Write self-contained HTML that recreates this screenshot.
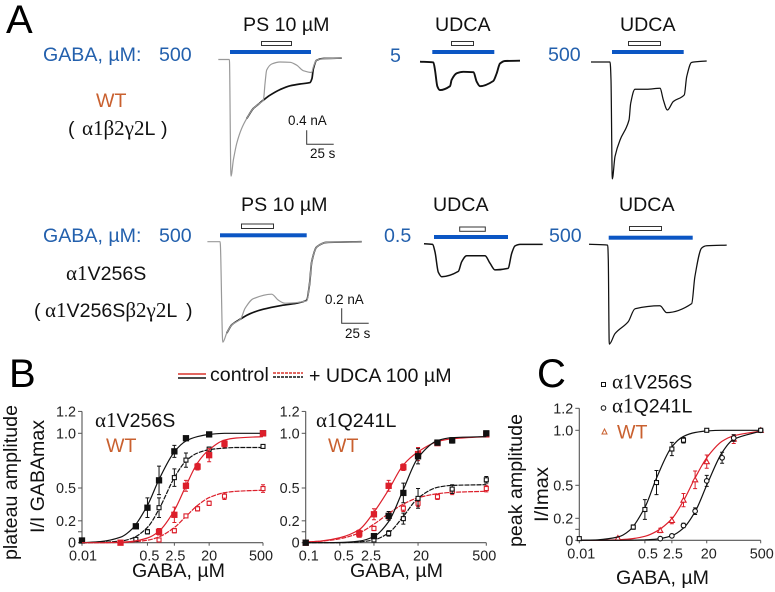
<!DOCTYPE html>
<html lang="en">
<head>
<meta charset="utf-8">
<title>GABA dose-response figure</title>
<style>
html,body{margin:0;padding:0;background:#fff;width:775px;height:592px;overflow:hidden}
svg{display:block}
text{font-family:"Liberation Sans",sans-serif;fill:#111;white-space:pre}
.s{font-family:"Liberation Serif",serif;font-size:21px}
.blue{fill:#2360ad}
.org{fill:#c9602f}
.t{font-size:19.6px}
.tick{font-size:14.4px;fill:#222}
.pl{font-size:40px;fill:#000}
.sm{font-size:13.4px}
</style>
</head>
<body>
<svg id="fig" xmlns="http://www.w3.org/2000/svg" width="775" height="592" viewBox="0 0 775 592">
<rect width="775" height="592" fill="#fff"/>
<text class="pl" x="6" y="33">A</text>
<text class="pl" x="9" y="387">B</text>
<text class="pl" x="537" y="387">C</text>

<text class="t blue" x="43" y="61">GABA, µM:</text>
<text class="t blue" x="159" y="61">500</text>
<text class="t blue" x="390" y="62">5</text>
<text class="t blue" x="548" y="61">500</text>
<text class="t blue" x="43" y="242">GABA, µM:</text>
<text class="t blue" x="159" y="242">500</text>
<text class="t blue" x="384" y="242">0.5</text>
<text class="t blue" x="549" y="242">500</text>

<text class="t" x="243" y="31">PS 10 µM</text>
<text class="t" x="435" y="31">UDCA</text>
<text class="t" x="620" y="31">UDCA</text>
<text class="t" x="241" y="211">PS 10 µM</text>
<text class="t" x="433" y="211">UDCA</text>
<text class="t" x="619" y="211">UDCA</text>

<text class="t org" x="96" y="107">WT</text>
<text class="t" x="68" y="135">(<tspan class="s" x="82">α1β2γ2</tspan>L<tspan x="161">)</tspan></text>
<text class="t" x="66" y="280"><tspan class="s">α1</tspan>V256S</text>
<text class="t" x="34" y="317">(<tspan class="s" x="45">α1</tspan>V256S<tspan class="s">β2γ2</tspan>L<tspan x="186">)</tspan></text>

<g fill="#0b56c4">
<rect x="230" y="50" width="81" height="4"/>
<rect x="432.3" y="50" width="62" height="4"/>
<rect x="612" y="50" width="71.7" height="4"/>
<rect x="220" y="233.3" width="86.7" height="4"/>
<rect x="434" y="235" width="74" height="4"/>
<rect x="608.7" y="235.7" width="84" height="4"/>
</g>
<g fill="#fff" stroke="#333" stroke-width="1">
<rect x="261.5" y="41.5" width="30" height="4"/>
<rect x="451.5" y="41.5" width="22" height="4"/>
<rect x="628.5" y="41.5" width="32" height="4"/>
<rect x="241.5" y="224" width="32" height="4.5"/>
<rect x="459.7" y="227" width="25.6" height="4.3"/>
<rect x="629.5" y="226.5" width="32" height="4"/>
</g>

<g id="traces"></g>
<g id="scalebars"></g>
<text class="sm" x="288" y="125">0.4 nA</text>
<text class="sm" x="310" y="158">25 s</text>
<text class="sm" x="325" y="304">0.2 nA</text>
<text class="sm" x="345" y="338">25 s</text>

<g>
<line x1="178" x2="206" y1="374" y2="374" stroke="#d9342c" stroke-width="1.5"/>
<line x1="178" x2="206" y1="378" y2="378" stroke="#111" stroke-width="1.5"/>
<text class="t" x="210" y="381">control</text>
</g>
<g>
<line x1="273" x2="303" y1="373" y2="373" stroke="#d9342c" stroke-width="1.5" stroke-dasharray="3 1"/>
<line x1="273" x2="303" y1="377" y2="377" stroke="#111" stroke-width="1.5" stroke-dasharray="3 1"/>
<text class="t" x="309" y="382">+ UDCA 100 µM</text>
</g>

<text class="t" transform="translate(17,560) rotate(-90)" textLength="155" lengthAdjust="spacingAndGlyphs">plateau amplitude</text>
<text class="t" transform="translate(44,533) rotate(-90)" textLength="113" lengthAdjust="spacingAndGlyphs">I/I GABAmax</text>
<text class="t" transform="translate(522,547) rotate(-90)" textLength="133" lengthAdjust="spacingAndGlyphs">peak amplitude</text>
<text class="t" transform="translate(548,522) rotate(-90)" textLength="55" lengthAdjust="spacingAndGlyphs">I/Imax</text>

<text class="t" x="132" y="577">GABA, µM</text>
<text class="t" x="350" y="577">GABA, µM</text>
<text class="t" x="616" y="584">GABA, µM</text>

<text class="t" x="95" y="427"><tspan class="s">α1</tspan>V256S</text>
<text class="t org" x="106" y="452">WT</text>
<text class="t" x="316" y="427"><tspan class="s">α1</tspan>Q241L</text>
<text class="t org" x="328" y="452">WT</text>

<g>
<rect x="601.5" y="382.5" width="4" height="4" fill="#fff" stroke="#111"/>
<text class="t" x="612" y="388.5"><tspan class="s">α1</tspan>V256S</text>
<circle cx="603.5" cy="408" r="2.3" fill="#fff" stroke="#111"/>
<text class="t" x="612" y="412.5"><tspan class="s">α1</tspan>Q241L</text>
<polygon points="604.5,429 607,434 602,434" fill="#fff" stroke="#c9602f"/>
<text class="t org" x="617" y="438.5">WT</text>
</g>

<g id="charts"></g>
</svg>

<script>
// ---------- Dose-response data: panel B, alpha1 V256S ----------
const b1CurveDoses = [0.01,0.03,0.1,0.2,0.5,1,2.5,5,10,20,50,100,500];
const b1ControlMutantDoses = [0.01,0.25,0.5,1,2.5,5,20,500];
const b1ControlMutantValues = [0.02,0.15,0.32,0.57,0.835,0.955,0.99,1.0];
const b1ControlMutantErrors = [0.02,0.02,0.09,0.13,0.055,0.015,0.01,0.005];
const b1ControlMutantCurve = [0,0.01,0.05,0.126,0.34,0.578,0.83,0.93,0.97,0.99,1,1,1];
const b1UdcaMutantDoses = [0.25,0.5,1,2.5,5,20,500];
const b1UdcaMutantValues = [0.03,0.1,0.32,0.595,0.755,0.855,0.88];
const b1UdcaMutantErrors = [0.01,0.02,0.09,0.08,0.065,0.02,0.015];
const b1UdcaMutantCurve = [0,0.003,0.015,0.04,0.14,0.307,0.595,0.747,0.82,0.85,0.865,0.87,0.87];
const b1ControlWtDoses = [0.1,1,2.5,5,10,20,50,500];
const b1ControlWtValues = [0,0.1,0.255,0.52,0.695,0.8,0.905,1.0];
const b1ControlWtErrors = [0.005,0.03,0.07,0.05,0.03,0.06,0.03,0.01];
const b1ControlWtCurve = [0,0,0.005,0.012,0.043,0.105,0.296,0.52,0.73,0.85,0.938,0.957,0.97];
const b1UdcaWtDoses = [0.1,1,2.5,5,10,20,50,500];
const b1UdcaWtValues = [0,0.025,0.11,0.245,0.31,0.36,0.425,0.495];
const b1UdcaWtErrors = [0.005,0.01,0.02,0.01,0.02,0.02,0.03,0.035];
const b1UdcaWtCurve = [0,0,0.003,0.007,0.023,0.053,0.139,0.24,0.341,0.412,0.457,0.47,0.48];
const b1XTicks = [0.01,0.5,2.5,20,500];

// ---------- Dose-response data: panel B, alpha1 Q241L ----------
const b2CurveDoses = [0.1,0.2,0.5,1.25,2.5,5,10,20,50,100,500];
const b2ControlMutantDoses = [0.1,2.5,5,10,20,50,100,500];
const b2ControlMutantValues = [0,0.06,0.245,0.455,0.79,0.915,0.935,1.0];
const b2ControlMutantErrors = [0.005,0.015,0.04,0.09,0.07,0.02,0.025,0.01];
const b2ControlMutantCurve = [0,0,0.002,0.015,0.057,0.194,0.485,0.776,0.933,0.96,0.97];
const b2UdcaMutantDoses = [2.5,5,10,20,100,500];
const b2UdcaMutantValues = [0.025,0.085,0.22,0.405,0.49,0.575];
const b2UdcaMutantErrors = [0.01,0.025,0.05,0.09,0.04,0.03];
const b2UdcaMutantCurve = [0,0,0,0.007,0.026,0.09,0.24,0.407,0.506,0.524,0.53];
const b2ControlWtDoses = [0.1,1.25,2.5,5,10,20,50,500];
const b2ControlWtValues = [0,0.085,0.26,0.52,0.69,0.81,0.91,0.99];
const b2ControlWtErrors = [0.005,0.03,0.05,0.05,0.03,0.06,0.02,0.01];
const b2ControlWtCurve = [0.006,0.015,0.046,0.12,0.28,0.485,0.71,0.83,0.924,0.95,0.97];
const b2UdcaWtDoses = [1.25,2.5,5,10,20,50,100,500];
const b2UdcaWtValues = [0.07,0.13,0.24,0.315,0.36,0.42,0.47,0.495];
const b2UdcaWtErrors = [0.02,0.02,0.03,0.03,0.03,0.025,0.03,0.03];
const b2UdcaWtCurve = [0.006,0.013,0.036,0.09,0.17,0.267,0.353,0.41,0.448,0.46,0.47];
const b2XTicks = [0.1,0.5,2.5,20,500];

// ---------- Dose-response data: panel C, peak amplitude ----------
const cCurveDoses = [0.01,0.03,0.1,0.2,0.5,1,2.5,5,10,20,50,100,500];
const cMutant1Doses = [0.01,0.25,0.5,1,2.5,5,20,500];
const cMutant1Values = [0.015,0.12,0.28,0.525,0.83,0.91,1.0,1.0];
const cMutant1Errors = [0.01,0.02,0.09,0.11,0.06,0.025,0.005,0.005];
const cMutant1Curve = [0,0.005,0.03,0.09,0.3,0.565,0.85,0.945,0.98,0.994,1,1,1];
const cMutant2Doses = [1.25,2.5,5,10,20,50,100,500];
const cMutant2Values = [0.015,0.04,0.135,0.265,0.54,0.75,0.93,1.0];
const cMutant2Errors = [0.005,0.015,0.02,0.03,0.05,0.05,0.03,0.005];
const cMutant2Curve = [0,0,0,0.001,0.004,0.011,0.042,0.111,0.26,0.5,0.798,0.918,0.992];
const cWtDoses = [0.1,1.25,2.5,5,10,20,100,500];
const cWtValues = [0.02,0.09,0.18,0.365,0.55,0.715,0.92,1.0];
const cWtErrors = [0.01,0.02,0.03,0.06,0.08,0.06,0.04,0.005];
const cWtCurve = [0,0,0.005,0.012,0.036,0.082,0.195,0.36,0.567,0.75,0.9,0.95,0.993];
const cXTicks = [0.01,0.5,2.5,20,500];

const yTickValues = [0,0.1,0.2,0.5,1.0,1.2];
const yTickLabels = ['0','','0.2','0.5','1.0','1.2'];

// ---------- Patch-clamp traces: time (s) and current (nA) ----------
const a1BlackTime = [15.4,21.6,26.2,30.9,37,46.3,55.6,64.8,74.1,75.9,77.2,80.2,86.4,103.4];
const a1BlackCurrent = [-1.69,-1.4,-1.28,-1.16,-1.02,-0.86,-0.75,-0.7,-0.66,-0.54,-0.26,-0.02,0.03,0.04];
const a1GreyTime = [-10.8,-0.6,0.9,3.1,6.2,10.8,15.4,21.6,26.2,30.9,32.4,34,38.6,46.3,55.6,61.7,67.9,75.6,77.2,80.2,84.9,103.4];
const a1GreyCurrent = [0,0,-3.33,-2.88,-2.4,-1.97,-1.69,-1.4,-1.28,-1.16,-0.69,-0.3,-0.13,-0.07,-0.08,-0.16,-0.32,-0.37,-0.21,-0.02,0.02,0.04];
const a2Time = [-13.9,-1.5,0,2.2,4.6,13.9,15.4,20.1,26.2,35.5,38.6,41.7,54,57.1,60.2,64.8,78.7];
const a2Current = [0,-0.02,-0.24,-0.71,-0.81,-0.7,-0.52,-0.33,-0.29,-0.3,-0.57,-0.7,-0.55,-0.33,-0.05,0.02,0.03];
const a3Time = [-18.5,-0.9,0,1.2,3.7,8.3,16.7,18.2,22.2,33,45.4,48.5,52.2,57.7,67.9,70.1,74.7,88.6];
const a3Current = [0,0,-0.51,-3.34,-2.7,-2.23,-1.66,-1.18,-0.78,-0.78,-0.75,-1.09,-1.37,-1.13,-0.94,-0.42,-0.01,0.03];
const b1BlackTime = [5.6,10.2,18.5,27.2,39.5,56.5,70.4,79.6,82.1,84.3,88.9,98.1,130.6];
const b1BlackCurrent = [-1.22,-1.11,-1.03,-0.96,-0.9,-0.85,-0.82,-0.78,-0.58,-0.27,-0.07,-0.01,0];
const b1GreyTime = [-12.3,-0.6,1.9,5.6,10.2,18.5,22.5,30.2,47.2,53.4,59.6,79.6,82.1,84.3,88.9,98.1,130.6];
const b1GreyCurrent = [0,0,-1.34,-1.22,-1.11,-1.03,-0.89,-0.76,-0.7,-0.78,-0.82,-0.79,-0.58,-0.27,-0.07,-0.01,0];
const b2Time = [-10.2,-2.2,0,3.1,6.2,21.6,24.7,29.3,46.3,50.9,55.6,67.6,71,74.1,78.7,99.7];
const b2Current = [0,-0.01,-0.11,-0.38,-0.44,-0.37,-0.24,-0.16,-0.16,-0.26,-0.35,-0.33,-0.13,-0.03,-0.01,-0.01];
const b3Time = [-17.9,-0.6,0,0.9,6.2,18.5,24.7,47.8,54,77.2,80.2,86.4,91,109.6];
const b3Current = [0,-0.01,-0.21,-1.33,-1.19,-1.03,-0.86,-0.82,-0.91,-0.79,-0.43,-0.05,-0.02,-0.01];

const SVGNS = 'http://www.w3.org/2000/svg';
const RED = '#dc1f2b';
const BLACK = '#111111';
const AXIS = '#555555';

function make(tag, parent, attrs) {
  const el = document.createElementNS(SVGNS, tag);
  for (const k in attrs) el.setAttribute(k, attrs[k]);
  parent.appendChild(el);
  return el;
}

function monotonePath(xs, ys) {
  const n = xs.length, d = [], m = new Array(n);
  for (let k = 0; k < n - 1; k++) d.push((ys[k + 1] - ys[k]) / (xs[k + 1] - xs[k]));
  m[0] = d[0]; m[n - 1] = d[n - 2];
  for (let k = 1; k < n - 1; k++) {
    m[k] = d[k - 1] * d[k] <= 0 ? 0 : 2 * d[k - 1] * d[k] / (d[k - 1] + d[k]);
  }
  let p = 'M' + xs[0].toFixed(1) + ' ' + ys[0].toFixed(1);
  for (let k = 0; k < n - 1; k++) {
    const h = (xs[k + 1] - xs[k]) / 3;
    p += 'C' + (xs[k] + h).toFixed(1) + ' ' + (ys[k] + m[k] * h).toFixed(1) + ' ' +
      (xs[k + 1] - h).toFixed(1) + ' ' + (ys[k + 1] - m[k + 1] * h).toFixed(1) + ' ' +
      xs[k + 1].toFixed(1) + ' ' + ys[k + 1].toFixed(1);
  }
  return p;
}

// ---------- Traces ----------
const SEC_PX = 1.08;
const rowANaPx = 35;
const rowBNaPx = 75;
const traceSpecs = [
  {name:'trace-a1-control', t:a1BlackTime, i:a1BlackCurrent, x0:230, y0:59.5, na:rowANaPx, color:BLACK, w:1.7},
  {name:'trace-a1-drug', t:a1GreyTime, i:a1GreyCurrent, x0:230, y0:59.5, na:rowANaPx, color:'#999999', w:1.2},
  {name:'trace-a2', t:a2Time, i:a2Current, x0:435, y0:61.7, na:rowANaPx, color:BLACK, w:1.9},
  {name:'trace-a3', t:a3Time, i:a3Current, x0:611, y0:62, na:rowANaPx, color:BLACK, w:1.25},
  {name:'trace-b1-control', t:b1BlackTime, i:b1BlackCurrent, x0:220.7, y0:241.7, na:rowBNaPx, color:BLACK, w:1.7},
  {name:'trace-b1-drug', t:b1GreyTime, i:b1GreyCurrent, x0:220.7, y0:241.7, na:rowBNaPx, color:'#999999', w:1.2},
  {name:'trace-b2', t:b2Time, i:b2Current, x0:435, y0:243.7, na:rowBNaPx, color:BLACK, w:1.5},
  {name:'trace-b3', t:b3Time, i:b3Current, x0:608.3, y0:244.3, na:rowBNaPx, color:BLACK, w:1.25}
];
const traceGroup = document.getElementById('traces');
traceSpecs.forEach(function (s) {
  const xs = s.t.map(function (t) { return s.x0 + t * SEC_PX; });
  const ys = s.i.map(function (i) { return s.y0 - i * s.na; });
  const el = make('path', traceGroup, {d:monotonePath(xs, ys), fill:'none', stroke:s.color, 'stroke-width':s.w, 'stroke-linejoin':'round'});
  
  
});

// ---------- Scale bars ----------
const scaleSeconds = 25;
const scaleSpecs = [
  {name:'scale-bar-a', x:306.7, y:144.3, nA:0.4, na:rowANaPx},
  {name:'scale-bar-b', x:341.7, y:323.3, nA:0.2, na:rowBNaPx}
];
const scaleGroup = document.getElementById('scalebars');
scaleSpecs.forEach(function (s) {
  const d = 'M' + s.x + ' ' + (s.y - s.nA * s.na) + 'V' + s.y + 'H' + (s.x + scaleSeconds * SEC_PX);
  const el = make('path', scaleGroup, {d:d, fill:'none', stroke:'#333', 'stroke-width':1});
  
  
});

// ---------- Charts ----------
function drawMarker(parent, shape, fillMode, color, x, y) {
  const fill = fillMode ? color : '#fff';
  let el;
  if (shape === 'square') {
    const s = fillMode ? 5.2 : 4;
    el = make('rect', parent, {x:x - s / 2, y:y - s / 2, width:s, height:s, fill:fill, stroke:color, 'stroke-width':1.1});
  } else if (shape === 'circle') {
    el = make('circle', parent, {cx:x, cy:y, r:2.3, fill:fill, stroke:color, 'stroke-width':1.1});
  } else {
    el = make('polygon', parent, {points:x + ',' + (y - 2.6) + ' ' + (x + 2.6) + ',' + (y + 2) + ' ' + (x - 2.6) + ',' + (y + 2), fill:fill, stroke:color, 'stroke-width':1.1});
  }
  
  
}

const chartSpecs = [
  {name:'chart-b1', xMin:0.01, xMax:500, left:82, right:263, y0:542.7, y1:433.3, grid:b1CurveDoses, xTicks:b1XTicks, labelShift:[1,2,1,0,-2],
   series:[
    {name:'wt-udca', d:b1UdcaWtDoses, v:b1UdcaWtValues, e:b1UdcaWtErrors, c:b1UdcaWtCurve, color:RED, shape:'square', filled:false, dash:true},
    {name:'mutant-udca', d:b1UdcaMutantDoses, v:b1UdcaMutantValues, e:b1UdcaMutantErrors, c:b1UdcaMutantCurve, color:BLACK, shape:'square', filled:false, dash:true},
    {name:'mutant-control', d:b1ControlMutantDoses, v:b1ControlMutantValues, e:b1ControlMutantErrors, c:b1ControlMutantCurve, color:BLACK, shape:'square', filled:true},
    {name:'wt-control', d:b1ControlWtDoses, v:b1ControlWtValues, e:b1ControlWtErrors, c:b1ControlWtCurve, color:RED, shape:'square', filled:true}
   ]},
  {name:'chart-b2', xMin:0.1, xMax:500, left:305.7, right:486.3, y0:542.7, y1:433.3, grid:b2CurveDoses, xTicks:b2XTicks, labelShift:[3,4,-3,3,-2],
   series:[
    {name:'wt-udca', d:b2UdcaWtDoses, v:b2UdcaWtValues, e:b2UdcaWtErrors, c:b2UdcaWtCurve, color:RED, shape:'square', filled:false, dash:true},
    {name:'wt-control', d:b2ControlWtDoses, v:b2ControlWtValues, e:b2ControlWtErrors, c:b2ControlWtCurve, color:RED, shape:'square', filled:true},
    {name:'mutant-udca', d:b2UdcaMutantDoses, v:b2UdcaMutantValues, e:b2UdcaMutantErrors, c:b2UdcaMutantCurve, color:BLACK, shape:'square', filled:false, dash:true},
    {name:'mutant-control', d:b2ControlMutantDoses, v:b2ControlMutantValues, e:b2ControlMutantErrors, c:b2ControlMutantCurve, color:BLACK, shape:'square', filled:true}
   ]},
  {name:'chart-c', xMin:0.01, xMax:500, left:579.3, right:760.7, y0:540.3, y1:430.3, grid:cCurveDoses, xTicks:cXTicks, labelShift:[2,3,1,2,1],
   series:[
    {name:'wt', d:cWtDoses, v:cWtValues, e:cWtErrors, c:cWtCurve, color:RED, shape:'triangle', filled:false},
    {name:'q241l', d:cMutant2Doses, v:cMutant2Values, e:cMutant2Errors, c:cMutant2Curve, color:BLACK, shape:'circle', filled:false},
    {name:'v256s', d:cMutant1Doses, v:cMutant1Values, e:cMutant1Errors, c:cMutant1Curve, color:BLACK, shape:'square', filled:false}
   ]}
];

const chartsGroup = document.getElementById('charts');
chartSpecs.forEach(function (ch) {
  const span = Math.log10(ch.xMax) - Math.log10(ch.xMin);
  const xScale = function (dose) { return ch.left + (Math.log10(dose) - Math.log10(ch.xMin)) / span * (ch.right - ch.left); };
  const yScale = function (val) { return ch.y0 - val * (ch.y0 - ch.y1); };

  const g = make('g', chartsGroup, {});
  
  

  // axes
  const yAxis = make('line', g, {x1:ch.left, x2:ch.left, y1:yScale(1.2), y2:ch.y0, stroke:AXIS, 'stroke-width':1.1});
  
  
  const xAxis = make('line', g, {x1:ch.left, x2:ch.right, y1:ch.y0, y2:ch.y0, stroke:AXIS, 'stroke-width':1.1});
  
  

  yTickValues.forEach(function (v, k) {
    const y = yScale(v);
    const t = make('line', g, {x1:ch.left - 4, x2:ch.left, y1:y, y2:y, stroke:AXIS, 'stroke-width':1});
    
    
    if (yTickLabels[k]) {
      const l = make('text', g, {x:ch.left - 6, y:y + 5, 'text-anchor':'end', 'class':'tick'});
      l.textContent = yTickLabels[k];
      
      
    }
  });
  ch.xTicks.forEach(function (v, k) {
    const x = xScale(v);
    const t = make('line', g, {x1:x, x2:x, y1:ch.y0, y2:ch.y0 + 3, stroke:AXIS, 'stroke-width':1});
    
    
    const l = make('text', g, {x:x + ch.labelShift[k], y:ch.y0 + 18, 'text-anchor':'middle', 'class':'tick'});
    l.textContent = String(v);
    
    
  });

  // series
  ch.series.forEach(function (s) {
    const sg = make('g', g, {});
    
    

    const curve = make('path', sg, {d:monotonePath(ch.grid.map(xScale), s.c.map(yScale)), fill:'none', stroke:s.color, 'stroke-width':1.2});
    if (s.dash) curve.setAttribute('stroke-dasharray', '5 1');
    
    

    s.d.forEach(function (dose, k) {
      const x = xScale(dose), y = yScale(s.v[k]), top = yScale(s.v[k] + s.e[k]), bot = yScale(s.v[k] - s.e[k]);
      const bar = make('path', sg, {d:'M' + (x - 2) + ' ' + top + 'H' + (x + 2) + 'M' + x + ' ' + top + 'V' + bot + 'M' + (x - 2) + ' ' + bot + 'H' + (x + 2), fill:'none', stroke:s.color, 'stroke-width':1});
      
      
      drawMarker(sg, s.shape, s.filled, s.color, x, y);
    });
  });
});
</script>
</body>
</html>
